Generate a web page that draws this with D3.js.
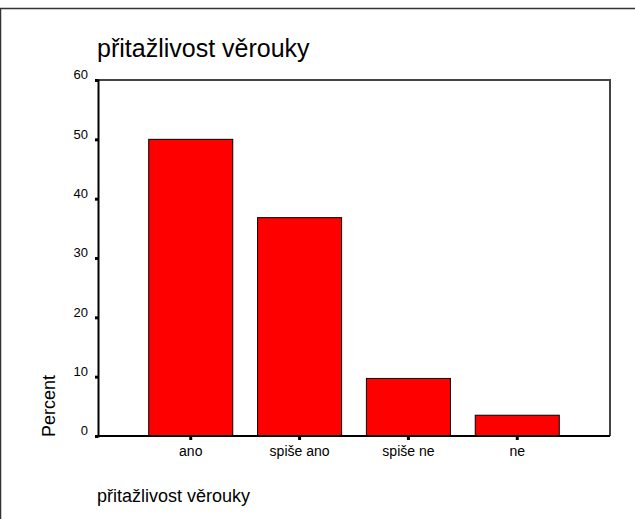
<!DOCTYPE html>
<meta charset="utf-8">
<script src="https://d3js.org/d3.v7.min.js"></script>
<style>
  body { margin: 0; background: #fff; }
  svg text { font-family: "Liberation Sans", Arial, sans-serif; fill: #000; }
</style>
<div id="chart"></div>
<script>
// data
const categories = ["ano", "spiše ano", "spiše ne", "ne"];
const percents = [50.0, 36.8, 9.7, 3.5];
const yTicks = [0, 10, 20, 30, 40, 50, 60];
const title = "přitažlivost věrouky";
const yLabel = "Percent";

const W = 635, H = 519;
const plot = {left: 98, right: 610, top: 80, bottom: 436};

const svg = d3.select("#chart").append("svg")
  .attr("width", W)
  .attr("height", H);

// outer frame (top and left edges only visible)
svg.append("path")
  .attr("d", `M0.5,${H} L0.5,8.5 L${W},8.5`)
  .attr("fill", "none")
  .attr("stroke", "#333")
  .attr("stroke-width", 1.5);

const x = d3.scaleBand()
  .domain(categories)
  .range([plot.left, plot.right])
  .paddingInner(0.228)
  .paddingOuter(0.466);

const y = d3.scaleLinear()
  .domain([0, 60])
  .range([plot.bottom, plot.top]);

// top and right edges of plot frame
svg.append("path")
  .attr("d", `M${plot.left},${plot.top} L${plot.right},${plot.top} L${plot.right},${plot.bottom}`)
  .attr("fill", "none")
  .attr("stroke", "#444")
  .attr("stroke-width", 2);

// bars
svg.selectAll("rect.bar")
  .data(categories)
  .join("rect")
    .attr("class", "bar")
    .attr("x", d => x(d))
    .attr("y", (d, i) => y(percents[i]))
    .attr("width", x.bandwidth())
    .attr("height", (d, i) => y(0) - y(percents[i]))
    .attr("fill", "#ff0000")
    .attr("stroke", "#000")
    .attr("stroke-width", 1);

// y axis
const yAxis = svg.append("g")
  .attr("transform", `translate(${plot.left},0)`)
  .call(d3.axisLeft(y).tickValues(yTicks).tickSize(3).tickPadding(7))
  .attr("font-size", 13)
  .attr("font-family", null);
yAxis.select(".domain").attr("stroke", "#000").attr("stroke-width", 2);
yAxis.selectAll(".tick line").attr("stroke", "#000").attr("stroke-width", 3);
yAxis.selectAll(".tick text")
  .style("font-size", "13px")
  .attr("dy", "-0.1em");

// x axis
const xAxis = svg.append("g")
  .attr("transform", `translate(0,${plot.bottom})`)
  .call(d3.axisBottom(x).tickSize(4).tickSizeOuter(0).tickPadding(6))
  .attr("font-size", 14)
  .attr("font-family", null);
xAxis.select(".domain").attr("stroke", "#000").attr("stroke-width", 2)
  .attr("d", `M${plot.left},0H${plot.right}`);
xAxis.selectAll(".tick line").attr("stroke", "#000").attr("stroke-width", 3);
xAxis.selectAll(".tick text").style("font-size", "14px");

// title
svg.append("text")
  .attr("x", 97)
  .attr("y", 57)
  .style("font-size", "25px")
  .text(title);

// y label
svg.append("text")
  .attr("transform", `translate(55,406) rotate(-90)`)
  .attr("text-anchor", "middle")
  .style("font-size", "18px")
  .text(yLabel);

// bottom caption
svg.append("text")
  .attr("x", 97)
  .attr("y", 502)
  .style("font-size", "18px")
  .text(title);
</script>
